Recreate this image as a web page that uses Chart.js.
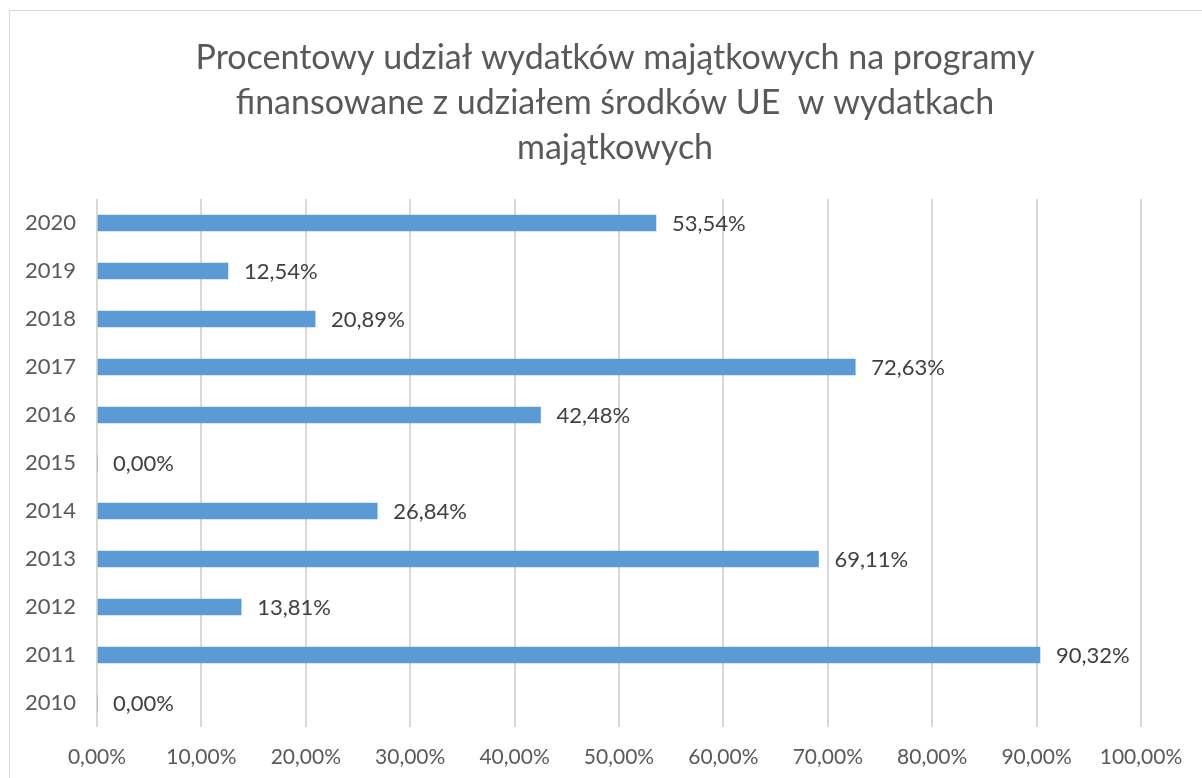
<!DOCTYPE html>
<html>
<head>
<meta charset="utf-8">
<script src="https://cdn.jsdelivr.net/npm/chart.js@4"></script>
<style>
  html, body { margin: 0; padding: 0; background: #fff; overflow: hidden; }
  #frame { position: absolute; left: 9px; top: 10px; width: 1220px; height: 800px; border: 1px solid #d9d9d9; }
  #chart { position: absolute; left: 0; top: 0; }
</style>
</head>
<body>
<div id="frame"></div>
<canvas id="chart" width="1202" height="778"></canvas>
<script>
const years = ['2020','2019','2018','2017','2016','2015','2014','2013','2012','2011','2010'];
const shares = [53.54, 12.54, 20.89, 72.63, 42.48, 0, 26.84, 69.11, 13.81, 90.32, 0];
const titleLines = [
    'Procentowy udział wydatków majątkowych na programy',
    'finansowane z udziałem środków UE  w wydatkach',
    'majątkowych'
];

const fmt = v => Number(v).toFixed(2).replace('.', ',') + '%';
const FONT = 'Lato, "Open Sans", sans-serif';

// title + value labels drawn by hand
const extras = {
    id: 'extras',
    afterDatasetsDraw(chart) {
        const ctx = chart.ctx;
        const meta = chart.getDatasetMeta(0);
        ctx.save();
        ctx.font = '22px ' + FONT;
        ctx.fillStyle = '#404040';
        ctx.textAlign = 'left';
        ctx.textBaseline = 'middle';
        meta.data.forEach((bar, i) => {
            ctx.fillText(fmt(shares[i]), bar.x + 16, bar.y + 1);
        });
        ctx.font = '34px ' + FONT;
        ctx.fillStyle = '#595959';
        ctx.textAlign = 'center';
        titleLines.forEach((t, i) => {
            ctx.fillText(t, 615, 58 + i * 45);
        });
        ctx.restore();
    }
};

const config = {
    type: 'bar',
    data: {
        labels: years,
        datasets: [{
            data: shares,
            backgroundColor: '#5b9bd5',
            borderWidth: 0,
            barThickness: 16
        }]
    },
    options: {
        indexAxis: 'y',
        responsive: false,
        animation: false,
        layout: { padding: { top: 199, right: 61, bottom: 0, left: 0 } },
        plugins: {
            legend: { display: false },
            title: { display: false },
            tooltip: { enabled: false }
        },
        scales: {
            x: {
                min: 0,
                max: 100,
                ticks: {
                    stepSize: 10,
                    color: '#595959',
                    font: { family: FONT, size: 21 },
                    padding: 18,
                    callback: v => fmt(v)
                },
                grid: { color: '#d9d9d9', lineWidth: 2, drawTicks: false },
                border: { display: false },
                afterFit: s => { s.height = 51; }
            },
            y: {
                ticks: {
                    color: '#595959',
                    font: { family: FONT, size: 22 },
                    padding: 21
                },
                grid: { display: false, drawTicks: false },
                border: { display: false },
                afterFit: s => { s.width = 97; }
            }
        }
    },
    plugins: [extras]
};

const shareChart = new Chart(document.getElementById('chart'), config);
</script>
</body>
</html>
